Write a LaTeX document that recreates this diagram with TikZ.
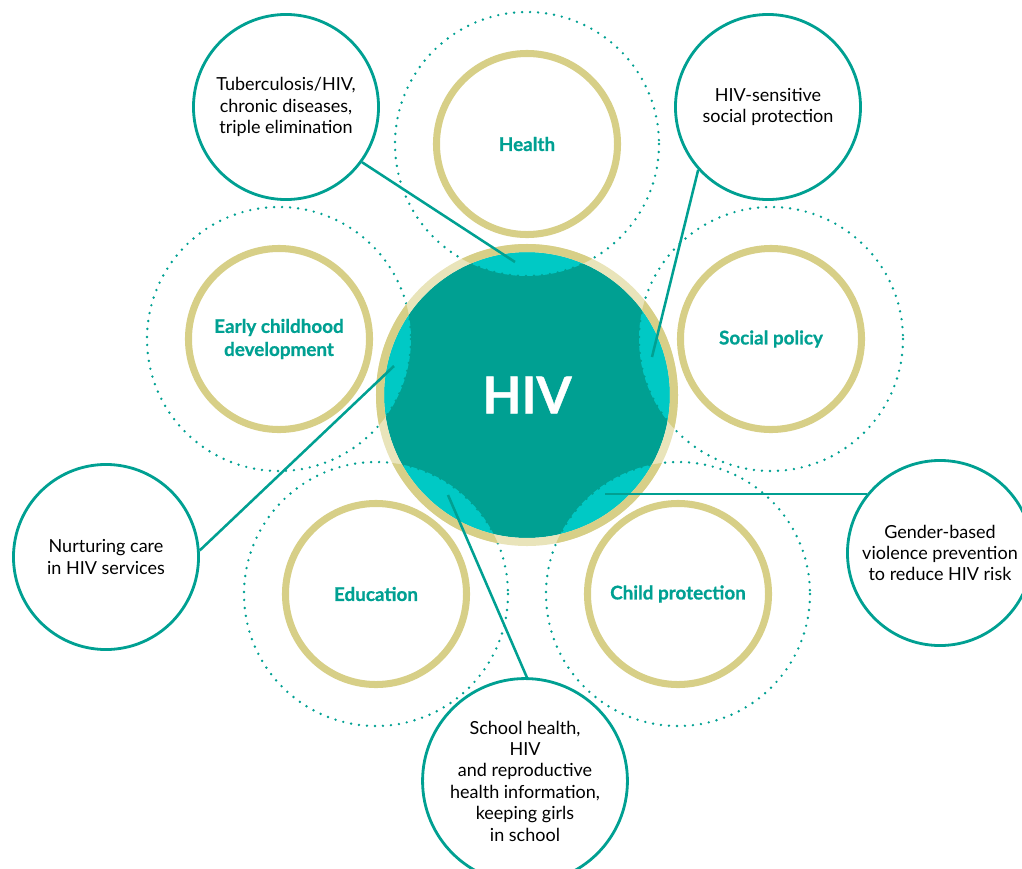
\documentclass[tikz,border=0pt]{standalone}
\usepackage{fontspec}
\setmainfont{Lato}[BoldFeatures={FakeBold=0.8}]

\definecolor{hivteal}{HTML}{00A092}
\definecolor{hivcyan}{HTML}{00C9C5}
\definecolor{hivgold}{HTML}{D7CF87}
\definecolor{hivbeige}{HTML}{E9E4BA}

\tikzset{
    topicring/.style={circle, draw=hivgold, line width=5pt, minimum size=4.525cm, align=center,
        text=hivteal, font=\bfseries\fontsize{13.4}{16.4}\selectfont},
    callout/.style={circle, draw=hivteal, fill=white, line width=2pt, minimum size=4.625cm, align=center,
        font=\fontsize{12.8}{15.2}\selectfont},
    dotring/.style={draw=hivteal, line width=1.9pt, line cap=round, dash pattern=on 0pt off 5.7pt},
    link/.style={draw=hivteal, line width=1.8pt}
}

\begin{document}
\begin{tikzpicture}[x=0.025cm, y=-0.025cm]
    \useasboundingbox (0,0) rectangle (1022,869);

    \coordinate (c) at (527,395);
    \coordinate (h) at (527,144);
    \coordinate (s) at (771,339);
    \coordinate (p) at (678,594);
    \coordinate (e) at (376,594);
    \coordinate (d) at (279,339);

    \fill[hivteal] (c) circle (143);
    \foreach \t in {h,s,p,e,d} {
        \begin{scope}
            \clip (\t) circle (132);
            \fill[hivcyan] (c) circle (143);
        \end{scope}
    }
    \foreach \t in {h,s,p,e,d}
        \draw[dotring] (\t) circle (132);
    \draw[hivbeige, line width=5.7pt] (c) circle (147);
    \foreach \t in {h,s,p,e,d} {
        \begin{scope}
            \clip (\t) circle (132);
            \draw[hivgold, line width=5.7pt] (c) circle (147);
        \end{scope}
    }

    \node[topicring] (health) at (h) {Health};
    \node[topicring] (social) at (s) {Social policy};
    \node[topicring] (child) at (p) {Child protection};
    \node[topicring] (educ) at (e) {Education};
    \node[topicring] (early) at (d) {Early childhood\\development};

    \node[text=white, font=\bfseries\fontsize{36}{40}\selectfont] (hiv) at (c) {HIV};

    \coordinate (tbend) at (515,262);
    \coordinate (hsend) at (652,357);
    \coordinate (ncend) at (394,366);
    \coordinate (gbend) at (605,494);
    \coordinate (shend) at (448,495);

    \node[callout] (tb) at (286,107) {Tuberculosis/HIV,\\chronic diseases,\\triple elimination};
    \node[callout] (hs) at (768,107) {HIV-sensitive\\social protection};
    \node[callout] (nc) at (106,557) {Nurturing care\\in HIV services};
    \node[callout] (gb) at (940,553) {Gender-based\\violence prevention\\to reduce HIV risk};
    \node[callout] (sh) at (525,781) {School health,\\HIV\\and reproductive\\health information,\\keeping girls\\in school};

    \draw[link] (tb.-36) -- (tbend);
    \draw[link] (hs.222) -- (hsend);
    \draw[link] (nc.4) -- (ncend);
    \draw[link] (gb.141) -- (gb.141 -| gbend);
    \draw[link] (sh.89) -- (shend);
\end{tikzpicture}
\end{document}
